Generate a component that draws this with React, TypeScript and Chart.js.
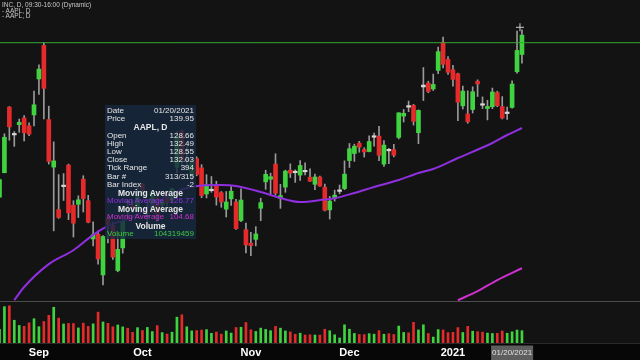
import React, { useEffect, useRef } from 'react';
import { Chart, registerables } from 'chart.js';

Chart.register(...registerables);

// Daily bars, index 0 = 2020-08-20 ... index 106 = 2021-01-22
const opens = [
  115.75, 119.26, 128.70, 124.70, 126.18, 127.14, 126.01, 127.58, 132.76, 137.59,
  126.91, 120.07, 113.95, 117.26, 120.36, 114.57, 114.72, 118.33, 115.23, 109.72,
  110.40, 104.54, 112.68, 111.62, 105.17, 108.43, 115.01, 114.55, 113.79, 117.64,
  112.89, 113.91, 115.70, 114.62, 116.25, 115.28, 120.06, 125.27, 121.00, 118.72,
  121.28, 119.96, 116.20, 116.67, 117.45, 116.39, 114.01, 115.49, 115.05, 112.37,
  111.06, 109.11, 109.66, 114.14, 117.95, 118.32, 120.50, 115.55, 117.19, 119.62,
  119.44, 118.92, 119.55, 118.61, 117.59, 118.64, 117.18, 113.91, 115.55, 116.57,
  116.97, 121.01, 122.02, 123.52, 122.60, 122.31, 124.37, 124.53, 120.50, 122.43,
  122.60, 124.34, 127.41, 128.90, 128.96, 125.02, 131.61, 132.16, 131.32, 133.99,
  138.05, 135.58, 134.08, 133.52, 128.89, 127.72, 128.36, 132.43, 129.19, 128.50,
  128.76, 130.80, 128.78, 127.78, 128.66, 133.80, 136.28,
];
const highs = [
  118.39, 124.87, 128.79, 125.18, 126.99, 127.49, 126.44, 131.00, 134.80, 137.98,
  128.84, 123.70, 118.99, 119.14, 120.50, 115.23, 115.93, 118.83, 116.00, 112.20,
  110.88, 110.19, 112.86, 112.11, 110.25, 112.44, 115.32, 115.31, 117.26, 117.72,
  115.37, 116.65, 116.12, 115.55, 116.40, 117.00, 125.18, 125.39, 123.03, 121.20,
  121.55, 120.42, 118.98, 118.71, 118.04, 116.55, 116.55, 117.28, 115.43, 116.93,
  111.99, 110.68, 111.49, 115.59, 119.62, 119.20, 121.99, 117.59, 119.63, 120.53,
  119.67, 120.99, 120.67, 119.82, 119.06, 118.77, 117.62, 115.85, 116.75, 117.49,
  120.97, 123.47, 123.37, 123.78, 122.86, 124.57, 124.98, 125.95, 123.87, 122.76,
  123.35, 127.90, 128.37, 129.58, 129.10, 128.31, 134.41, 132.43, 133.46, 137.34,
  138.79, 135.99, 134.74, 133.61, 131.74, 131.05, 131.63, 132.63, 130.17, 129.69,
  131.45, 131.00, 130.22, 128.71, 132.49, 139.67, 139.85,
];
const lows = [
  115.73, 119.25, 123.94, 123.05, 125.08, 123.83, 124.58, 126.00, 130.53, 127.00,
  120.50, 110.89, 112.68, 115.26, 112.50, 110.00, 112.80, 113.61, 112.04, 108.71,
  106.09, 103.10, 109.16, 106.77, 105.00, 107.67, 112.78, 113.57, 113.62, 115.83,
  112.22, 113.55, 112.25, 114.13, 114.59, 114.92, 119.28, 119.65, 119.62, 118.15,
  118.81, 115.66, 115.63, 116.45, 114.59, 114.28, 112.88, 114.54, 111.10, 112.20,
  107.72, 107.32, 108.73, 112.35, 116.87, 116.13, 116.05, 114.13, 116.44, 118.57,
  117.87, 118.15, 118.96, 118.00, 116.81, 117.29, 113.75, 112.59, 115.17, 116.22,
  116.81, 120.01, 120.89, 122.21, 121.52, 122.25, 123.09, 121.00, 120.15, 120.55,
  121.54, 124.13, 126.56, 128.04, 126.12, 123.45, 129.65, 130.78, 131.10, 133.51,
  134.34, 133.40, 131.72, 126.76, 128.43, 126.38, 127.86, 130.23, 128.50, 126.86,
  128.49, 128.76, 127.00, 126.94, 128.55, 133.59, 135.02,
];
const closes = [
  118.28, 124.37, 125.86, 124.83, 126.52, 125.01, 124.81, 129.04, 134.18, 131.40,
  120.88, 120.96, 112.82, 117.32, 113.49, 112.00, 115.36, 115.54, 112.13, 110.34,
  106.84, 110.08, 111.81, 107.12, 108.22, 112.28, 114.96, 114.09, 115.81, 116.79,
  113.02, 116.50, 113.16, 115.08, 114.97, 116.97, 124.40, 121.10, 121.19, 120.71,
  119.02, 115.98, 117.51, 116.87, 115.75, 115.04, 115.05, 116.60, 111.20, 115.32,
  108.86, 108.77, 110.44, 114.95, 119.03, 118.69, 116.32, 115.97, 119.49, 119.21,
  119.26, 120.30, 119.39, 118.03, 118.64, 117.34, 113.85, 115.17, 116.03, 116.59,
  119.05, 122.72, 123.08, 122.94, 122.25, 123.75, 124.38, 121.78, 123.24, 122.41,
  121.78, 127.88, 127.81, 128.70, 126.66, 128.23, 131.88, 130.96, 131.97, 136.69,
  134.87, 133.72, 132.69, 129.41, 131.01, 126.60, 130.92, 132.05, 128.98, 128.80,
  130.89, 128.91, 127.14, 127.83, 132.03, 136.87, 139.07,
];
// volume in millions of shares
const volumes = [
  126.9, 338.1, 345.9, 211.5, 163.0, 155.6, 187.6, 225.7, 151.9, 200.1,
  257.6, 332.6, 231.4, 176.9, 182.3, 180.9, 140.2, 184.6, 154.7, 178.0,
  287.1, 195.7, 183.1, 150.7, 167.7, 149.9, 137.7, 99.4, 142.7, 116.1,
  144.7, 106.2, 161.5, 96.8, 83.5, 100.5, 240.2, 262.3, 150.7, 112.6,
  115.4, 120.6, 124.4, 89.9, 101.9, 82.6, 111.9, 92.3, 143.9, 146.1,
  190.6, 122.9, 107.6, 138.2, 126.4, 114.5, 154.5, 138.0, 112.3, 103.4,
  81.7, 91.2, 74.3, 76.3, 74.1, 73.6, 127.9, 113.9, 76.5, 46.7,
  169.4, 128.2, 89.0, 78.9, 78.3, 86.7, 82.2, 115.1, 81.3, 86.9,
  79.2, 157.6, 98.2, 94.4, 192.5, 121.3, 169.4, 88.2, 54.9, 124.5,
  121.0, 96.5, 99.1, 143.3, 97.7, 155.1, 109.6, 105.2, 100.6, 92.0,
  88.6, 90.2, 111.6, 90.8, 104.3, 120.5, 114.5,
];

// Moving averages (bar index -> value)
const ma1Index = [3, 5, 10, 15, 19, 22, 27, 34, 38, 41, 45, 48, 53, 57, 61, 66, 68, 72, 76, 81, 85, 88, 93, 100, 103, 106];
const ma1Values = [100.9, 102.8, 106.1, 108.1, 110.3, 111.6, 112.9, 115.9, 117.06, 117.42, 117.49, 117.35, 116.48, 115.62, 115.04, 115.4, 115.57, 116.34, 117.2, 118.21, 119.22, 119.79, 121.38, 123.54, 124.69, 125.7];
const ma2Index = [93, 97, 101, 106];
const ma2Values = [100.9, 102.2, 103.8, 105.5];

// x-axis ticks
const tickIndex = [8, 29, 51, 71, 92, 104];
const tickLabels = ['Sep', 'Oct', 'Nov', 'Dec', '2021', '01/20/2021'];

const levelPrice = 137.98;
const cursorIndex = 105.6;
const cursorPrice = 140.2;
const paneFloor = 100.78;

// tooltip readout
const tipIndex = 104;
const tipDate = '01/20/2021';
const tipPrice = '139.95';
const tipSymbol = 'AAPL, D';
const tipBar = '313/315';
const tipBarIndex = '-2';
const tipMa1 = '126.77';
const tipMa2 = '104.68';
const tipVolume = '104319459';

const FONT = "'Liberation Sans', Arial, sans-serif";
const GREEN = '#3fd43f';
const RED = '#e42a2a';
const DOJI = '#d6d6d6';
const WICK = '#9a9a9a';
const MA1C = '#8f2fe0';
const MA2C = '#d030d0';

const X_MIN = 0.1014;
const X_MAX = 129.95;

export default function App() {
  const ref = useRef<HTMLCanvasElement>(null);

  useEffect(() => {
    document.body.style.margin = '0';
    document.body.style.background = '#131313';
    const idx = opens.map((_, i) => i);
    const bodyColors = idx.map((i) =>
      Math.abs(closes[i] - opens[i]) < 0.3 ? DOJI : closes[i] >= opens[i] ? GREEN : RED
    );
    const volColors = idx.map((i) => (closes[i] >= opens[i] ? GREEN : RED));

    const bgPlugin = {
      id: 'bgPlugin',
      beforeDraw(chart: any) {
        const { ctx, chartArea, width, height } = chart;
        ctx.save();
        ctx.fillStyle = '#131313';
        ctx.fillRect(0, 0, width, height);
        ctx.fillStyle = '#070707';
        ctx.fillRect(0, chartArea.bottom, width, height - chartArea.bottom);
        const y = Math.round(chart.scales.y.getPixelForValue(paneFloor)) + 0.5;
        ctx.strokeStyle = '#4d4d4d';
        ctx.lineWidth = 1;
        ctx.beginPath();
        ctx.moveTo(0, y);
        ctx.lineTo(width, y);
        ctx.stroke();
        ctx.strokeStyle = '#2a2a2a';
        ctx.beginPath();
        ctx.moveTo(0, Math.round(chartArea.bottom) + 0.5);
        ctx.lineTo(width, Math.round(chartArea.bottom) + 0.5);
        ctx.stroke();
        ctx.restore();
      },
    };

    const chart = new Chart(ref.current as HTMLCanvasElement, {
      type: 'bar',
      data: {
        datasets: [
          {
            type: 'line',
            data: [{ x: X_MIN, y: levelPrice }, { x: X_MAX, y: levelPrice }],
            borderColor: '#34a834',
            borderWidth: 1,
            pointRadius: 0,
            yAxisID: 'y',
            order: 0,
          },
          {
            type: 'scatter',
            data: [{ x: cursorIndex, y: cursorPrice }],
            pointStyle: 'cross',
            pointRadius: 4,
            borderColor: '#cfcfcf',
            borderWidth: 1,
            yAxisID: 'y',
            order: 0,
          },
          {
            type: 'line',
            data: ma1Index.map((k, j) => ({ x: k, y: ma1Values[j] })),
            borderColor: MA1C,
            borderWidth: 2,
            pointRadius: 0,
            cubicInterpolationMode: 'monotone',
            yAxisID: 'y',
            order: 1,
          },
          {
            type: 'line',
            data: ma2Index.map((k, j) => ({ x: k, y: ma2Values[j] })),
            borderColor: MA2C,
            borderWidth: 2,
            pointRadius: 0,
            cubicInterpolationMode: 'monotone',
            yAxisID: 'y',
            order: 1,
          },
          {
            type: 'bar',
            data: idx.map((i) => ({ x: i, y: [opens[i], closes[i]] })),
            backgroundColor: bodyColors,
            barThickness: 4,
            minBarLength: 1.5,
            grouped: false,
            yAxisID: 'y',
            order: 3,
          },
          {
            type: 'bar',
            data: idx.map((i) => ({ x: i, y: [lows[i], highs[i]] })),
            backgroundColor: WICK,
            barThickness: 1,
            grouped: false,
            yAxisID: 'y',
            order: 4,
          },
          {
            type: 'bar',
            data: idx.map((i) => ({ x: i, y: volumes[i] })),
            backgroundColor: volColors,
            barThickness: 2,
            grouped: false,
            yAxisID: 'yv',
            order: 5,
          },
        ] as any,
      },
      options: {
        responsive: false,
        animation: false,
        events: [],
        layout: { padding: 0, autoPadding: false },
        plugins: { legend: { display: false }, tooltip: { enabled: false } },
        scales: {
          x: {
            type: 'linear',
            min: X_MIN,
            max: X_MAX,
            offset: false,
            afterBuildTicks: (scale: any) => {
              scale.ticks = tickIndex.map((v) => ({ value: v }));
            },
            grid: { display: false, drawTicks: true, tickLength: 3, offset: false },
            border: { display: false },
            ticks: {
              autoSkip: false,
              maxRotation: 0,
              padding: 0,
              callback: (_v: any, i: number) => tickLabels[i],
              color: (c: any) => (c.index === 5 ? '#e2e2e2' : '#ffffff'),
              font: (c: any) =>
                c.index === 5
                  ? { family: FONT, size: 8, lineHeight: '14px' }
                  : { family: FONT, size: 11, weight: 'bold', lineHeight: '14px' },
              showLabelBackdrop: (c: any) => c.index === 5,
              backdropColor: '#5e5e5e',
              backdropPadding: { x: 1, y: 0.5 },
            } as any,
          },
          y: { type: 'linear', display: false, min: 94.74, max: 144.13 },
          yv: { type: 'linear', display: false, min: 0, max: 3190 },
        },
      } as any,
      plugins: [bgPlugin],
    });
    return () => chart.destroy();
  }, []);

  const rows: Array<[string, string, string?, boolean?]> = [
    ['Date', tipDate],
    ['Price', tipPrice],
    [tipSymbol, '', undefined, true],
    ['Open', opens[tipIndex].toFixed(2)],
    ['High', highs[tipIndex].toFixed(2)],
    ['Low', lows[tipIndex].toFixed(2)],
    ['Close', closes[tipIndex].toFixed(2)],
    ['Tick Range', String(Math.round((highs[tipIndex] - lows[tipIndex]) * 100))],
    ['Bar #', tipBar],
    ['Bar Index', tipBarIndex],
    ['Moving Average', '', undefined, true],
    ['Moving Average', tipMa1, MA1C],
    ['Moving Average', '', undefined, true],
    ['Moving Average', tipMa2, MA2C],
    ['Volume', '', undefined, true],
    ['Volume', tipVolume, '#3fc83f'],
  ];

  return (
    <div style={{ position: 'relative', width: 640, height: 360, overflow: 'hidden', background: '#131313' }}>
      <canvas ref={ref} width={640} height={360} style={{ display: 'block' }} />
      <div
        style={{
          position: 'absolute',
          left: 2,
          top: 2,
          fontFamily: FONT,
          fontSize: 6.5,
          lineHeight: '5.6px',
          color: '#c8c8c8',
          whiteSpace: 'pre',
        }}
      >
        <div>INC, D, 09:30-16:00 (Dynamic)</div>
        <div>- AAPL, D</div>
        <div>- AAPL, D</div>
      </div>
      <div
        style={{
          position: 'absolute',
          left: 105,
          top: 105,
          width: 91,
          height: 134,
          background: 'rgba(22, 40, 62, 0.82)',
          fontFamily: FONT,
          fontSize: 8,
          color: '#e6e6e6',
          paddingTop: 2,
          boxSizing: 'border-box',
        }}
      >
        {rows.map(([label, value, color, header], i) => (
          <div
            key={i}
            style={{
              height: 8.2,
              lineHeight: '8.2px',
              display: 'flex',
              justifyContent: header ? 'center' : 'space-between',
              padding: '0 2px',
              fontWeight: header ? 'bold' : 'normal',
              fontSize: header ? 8.5 : 8,
              color: color || '#e6e6e6',
              whiteSpace: 'nowrap',
            }}
          >
            <span>{label}</span>
            {!header && <span>{value}</span>}
          </div>
        ))}
      </div>
    </div>
  );
}
